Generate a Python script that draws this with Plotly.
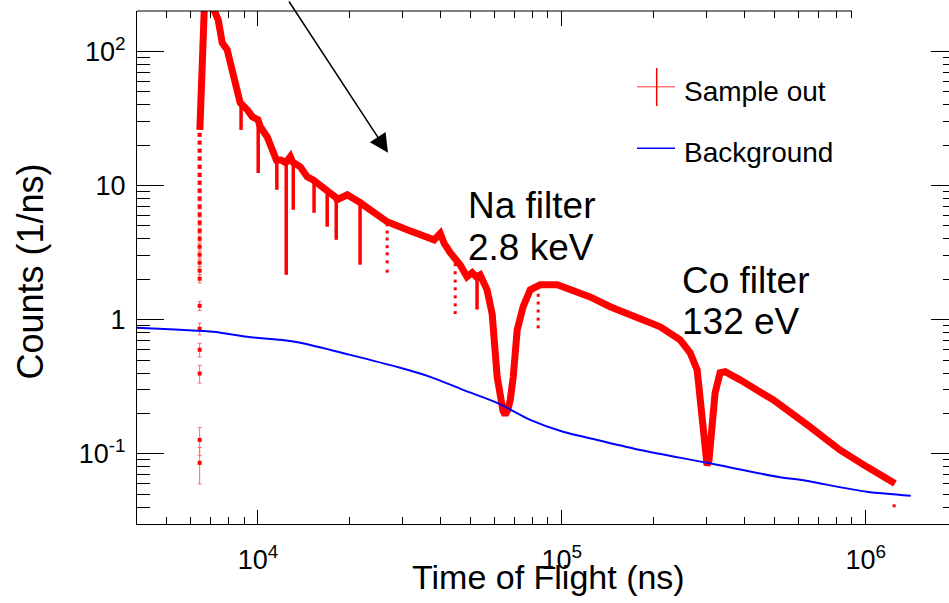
import numpy as np
import plotly.graph_objects as go

# ---------------- data ----------------
# Sample out: main histogram band (time of flight in ns, counts per ns)
tof_main = [6440, 6510, 6610, 6700, 7000, 7130, 7400, 7630, 7920, 8110, 8420, 8740,
            9220, 9580, 10000, 10180, 10720, 11230, 11500, 11900, 12350, 12780, 13000,
            13780, 14530, 15200, 16400, 18000, 18230, 19670, 21600, 23940, 26620,
            30970, 34200, 38000, 39810, 41000, 43000, 44500, 46240, 48750, 50700,
            52300, 53830, 56750, 59000, 61260, 62660, 64000, 65100, 66500, 67650,
            69200, 71300, 74600, 78700, 84860, 96600, 106400, 123900, 144200, 167800,
            181100, 210800, 245100, 264300, 278800, 285300, 291700, 297000, 300600,
            305000, 312300, 319400, 331700, 344600, 386000, 495600, 641100, 822500,
            1009000, 1248000]
counts_main = [26.0, 60, 250, 300, 300, 210, 172, 116, 103, 82.4, 58.5, 41.4,
               36.7, 32.6, 31, 27.4, 23.1, 18.5, 15.5, 15.5, 14.8, 16.4, 15,
               13.8, 11.6, 11.0, 9.79, 8.2, 7.84, 8.53, 7.5, 6.27, 5.37,
               4.68, 4.30, 3.94, 4.4, 3.7, 3.15, 2.9, 2.57, 2.09, 2.24,
               2.09, 2.16, 1.67, 1.1, 0.375, 0.253, 0.21, 0.195, 0.215, 0.253,
               0.375, 0.840, 1.25, 1.67, 1.82, 1.82, 1.67, 1.48, 1.25, 1.09,
               0.997, 0.885, 0.708, 0.567, 0.423, 0.253, 0.134, 0.09, 0.082,
               0.09, 0.143, 0.285, 0.402, 0.409, 0.356, 0.253, 0.165, 0.107,
               0.080, 0.060]

# Sample out: narrow downward spikes (time, band level, spike bottom)
tof_spike = [8800, 10020, 11540, 12390, 13070, 15300, 16900, 18100, 21680, 52600]
spike_top = [40, 30, 16, 15, 15, 11, 9.5, 8.0, 7.5, 2.1]
spike_bottom = [26.0, 12.4, 9.3, 2.16, 6.6, 6.27, 4.93, 3.94, 2.57, 1.19]

# Sample out: individual low-statistics bins on the rising edge
tof_edge = [6430, 6430, 6430, 6430, 6430, 6430, 6430, 6430, 6430, 6430, 6430, 6430,
            6430, 6430, 6430, 6430, 6430, 6430, 6430, 6430, 6430, 6430, 6430, 6430, 6430]
counts_edge = [23.9, 20.9, 18.2, 15.9, 13.8, 12.0, 10.5, 9.15, 7.98, 6.95, 6.06, 5.28,
               4.60, 4.01, 3.50, 3.05, 2.66, 2.32, 2.02, 1.27, 0.856, 0.597, 0.397,
               0.127, 0.0857]
err_edge = [0.5, 0.45, 0.4, 0.4, 0.35, 0.35, 0.3, 0.3, 0.28, 0.26, 0.25, 0.23,
            0.21, 0.2, 0.19, 0.17, 0.16, 0.15, 0.14, 0.1, 0.085, 0.07, 0.06,
            0.03, 0.026]

# Sample out: isolated low bins (dotted drops)
tof_drop = [26620, 26620, 26620, 26620, 26620, 26620, 26620,
            44570, 44570, 44570, 44570, 44570, 44570, 44570,
            83600, 83600, 83600, 83600, 83600, 1240000]
counts_drop = [5.1, 4.5, 4.0, 3.5, 3.1, 2.7, 2.3,
               2.57, 2.24, 1.94, 1.70, 1.48, 1.29, 1.13,
               1.52, 1.33, 1.16, 1.01, 0.885, 0.041]

# Background curve
tof_bkg = [4000, 5550, 7130, 9220, 11840, 13780, 20120, 29380, 36880, 47320, 61260,
           78700, 100900, 130600, 181100, 300600, 534600, 608000, 1009000, 1406000]
counts_bkg = [0.87, 0.840, 0.813, 0.746, 0.708, 0.673, 0.547, 0.438, 0.375, 0.300,
              0.240, 0.179, 0.146, 0.127, 0.107, 0.0857, 0.0663, 0.0641, 0.0521, 0.0487]

# axis ticks
x_major = [1e4, 1e5, 1e6]
x_major_text = ["10<sup>4</sup>", "10<sup>5</sup>", "10<sup>6</sup>"]
x_minor = [4000, 5000, 6000, 7000, 8000, 9000,
           2e4, 3e4, 4e4, 5e4, 6e4, 7e4, 8e4, 9e4,
           2e5, 3e5, 4e5, 5e5, 6e5, 7e5, 8e5, 9e5]
x_top_major = [1e4, 1e5]
y_major = [0.1, 1, 10, 100]
y_major_text = ["10<sup>-1</sup>", "1", "10", "10<sup>2</sup>"]
y_minor = [0.03, 0.04, 0.05, 0.06, 0.07, 0.08, 0.09,
           0.2, 0.3, 0.4, 0.5, 0.6, 0.7, 0.8, 0.9,
           2, 3, 4, 5, 6, 7, 8, 9,
           20, 30, 40, 50, 60, 70, 80, 90, 200]

# ---------------- figure ----------------
FONT = "Liberation Sans, Arial, Helvetica, sans-serif"
RED = "#ff0000"
BLUE = "#0000ff"

xr = [np.log10(4000), 6.274]
yr = [np.log10(0.03), np.log10(200)]

spike_x, spike_y = [], []
for t, a, b in zip(tof_spike, spike_top, spike_bottom):
    spike_x += [t, t, None]
    spike_y += [a, b, None]

fig = go.Figure()
fig.add_trace(go.Scatter(x=tof_main, y=counts_main, mode="lines",
                         line=dict(color=RED, width=7), showlegend=False,
                         name="Sample out"))
fig.add_trace(go.Scatter(x=spike_x, y=spike_y, mode="lines",
                         line=dict(color=RED, width=3.5), showlegend=False,
                         connectgaps=False))
fig.add_trace(go.Scatter(x=tof_edge, y=counts_edge, mode="markers",
                         marker=dict(symbol="square", size=4, color=RED),
                         error_y=dict(type="data", array=err_edge, color="#ff6a6a",
                                      thickness=1, width=2),
                         showlegend=False))
fig.add_trace(go.Scatter(x=tof_drop, y=counts_drop, mode="markers",
                         marker=dict(symbol="square", size=3, color=RED),
                         showlegend=False))
fig.add_trace(go.Scatter(x=tof_bkg, y=counts_bkg, mode="lines",
                         line=dict(color=BLUE, width=2, shape="spline", smoothing=0.8),
                         showlegend=False, name="Background"))
# dummy trace so the mirrored tick axes exist
fig.add_trace(go.Scatter(x=[None], y=[None], xaxis="x2", yaxis="y2",
                         showlegend=False, hoverinfo="skip"))

tickfont = dict(family=FONT, size=27, color="black")
fig.update_layout(
    width=949, height=603,
    margin=dict(l=137, r=0, t=11, b=79),
    paper_bgcolor="white", plot_bgcolor="white",
    hovermode=False, showlegend=False,
    xaxis=dict(type="log", range=xr, showline=True, linecolor="black", linewidth=1,
               ticks="inside", ticklen=14, tickcolor="black", tickwidth=1,
               tickmode="array", tickvals=x_major, ticktext=x_major_text,
               tickfont=tickfont, showgrid=False, zeroline=False,
               ticklabelstandoff=12,
               minor=dict(tickmode="array", tickvals=x_minor, ticks="inside",
                          ticklen=7, tickcolor="black", tickwidth=1, showgrid=False)),
    yaxis=dict(type="log", range=yr, showline=True, linecolor="black", linewidth=1,
               ticks="inside", ticklen=27, tickcolor="black", tickwidth=1,
               tickmode="array", tickvals=y_major, ticktext=y_major_text,
               tickfont=tickfont, showgrid=False, zeroline=False,
               ticklabelstandoff=5,
               minor=dict(tickmode="array", tickvals=y_minor, ticks="inside",
                          ticklen=13, tickcolor="black", tickwidth=1, showgrid=False)),
    xaxis2=dict(type="log", range=xr, overlaying="x", anchor="y", side="top",
                showline=False, ticks="inside", ticklen=15, tickcolor="black",
                tickmode="array", tickvals=x_top_major, showticklabels=False,
                showgrid=False, zeroline=False,
                minor=dict(tickmode="array", tickvals=x_minor, ticks="inside",
                           ticklen=7, tickcolor="black", showgrid=False)),
    yaxis2=dict(type="log", range=yr, overlaying="y", anchor="x", side="right",
                showline=False, ticks="inside", ticklen=18, tickcolor="black",
                tickmode="array", tickvals=y_major, showticklabels=False,
                showgrid=False, zeroline=False,
                minor=dict(tickmode="array", tickvals=y_minor, ticks="inside",
                           ticklen=6, tickcolor="black", showgrid=False)),
)

# top frame line (drawn only up to the last top tick)
top_end = (np.log10(9e5) - xr[0]) / (xr[1] - xr[0])
shapes = [dict(type="line", xref="paper", yref="paper", x0=0, x1=top_end, y0=1, y1=1,
               line=dict(color="black", width=1))]

# legend glyphs
def px2paper(px, py):
    return (px - 137) / 812.0, (524 - py) / 513.0

lx0, ly = px2paper(637, 86.7)
lx1, _ = px2paper(675, 86.7)
vx, vy0 = px2paper(656.7, 68)
_, vy1 = px2paper(656.7, 106)
_, by = px2paper(0, 148.3)
shapes += [
    dict(type="line", xref="paper", yref="paper", x0=lx0, x1=lx1, y0=ly, y1=ly,
         line=dict(color="#ff7a7a", width=1.5)),
    dict(type="line", xref="paper", yref="paper", x0=vx, x1=vx, y0=vy0, y1=vy1,
         line=dict(color=RED, width=1.5)),
    dict(type="line", xref="paper", yref="paper", x0=lx0, x1=lx1, y0=by, y1=by,
         line=dict(color=BLUE, width=1.5)),
]
fig.update_layout(shapes=shapes)

def txt(text, px, py, size, xanchor="left", angle=0):
    x, y = px2paper(px, py)
    return dict(text=text, x=x, y=y, xref="paper", yref="paper", showarrow=False,
                xanchor=xanchor, yanchor="middle", textangle=angle,
                font=dict(family=FONT, size=size, color="black"))

annotations = [
    txt("Sample out", 682, 91, 28),
    txt("Background", 682, 152.5, 28),
    txt("Na filter", 466, 205, 37),
    txt("2.8 keV", 466, 247.5, 37),
    txt("Co filter", 680, 280.5, 37),
    txt("132 eV", 680, 321, 37),
    txt("Time of Flight (ns)", 548.5, 577, 34, xanchor="center"),
    txt("Counts (1/ns)", 30, 271.5, 36, xanchor="center", angle=-90),
]
ax_, ay_ = px2paper(388, 152.7)
annotations.append(dict(text="", x=ax_, y=ay_, xref="paper", yref="paper",
                        showarrow=True, ax=-100, ay=-160, arrowhead=2, arrowsize=2.5,
                        arrowwidth=1.5, arrowcolor="black", standoff=0))
fig.update_layout(annotations=annotations)

fig.write_html("out.html")
